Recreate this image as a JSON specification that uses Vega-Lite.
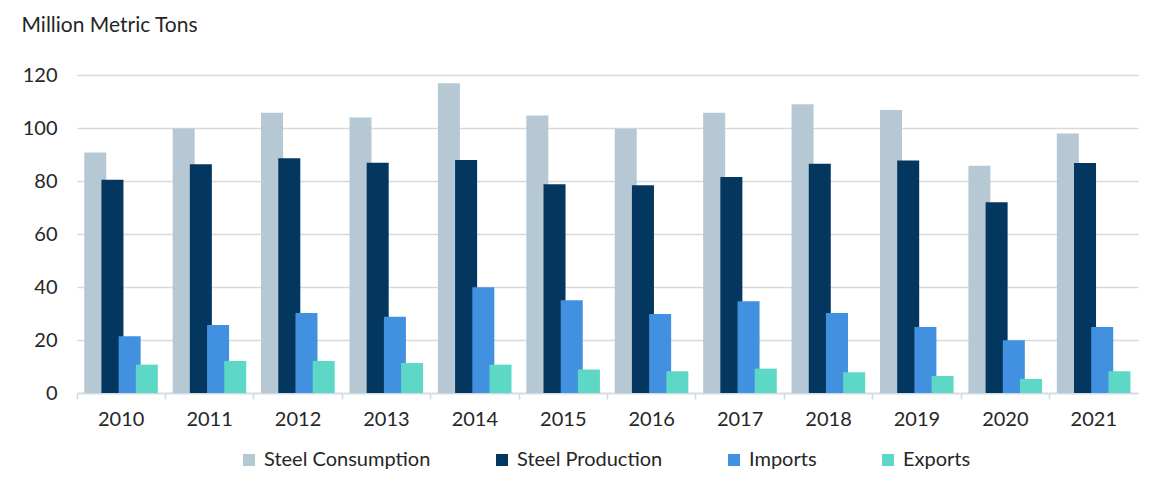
{
  "$schema": "https://vega.github.io/schema/vega-lite/v6.json",
  "width": 1061,
  "height": 318,
  "autosize": {"type": "none"},
  "padding": {"left": 77, "top": 75, "right": 15, "bottom": 100},
  "background": "white",
  "config": {
    "view": {"stroke": null},
    "font": "Lato",
    "axis": {"labelFont": "Lato", "titleFont": "Lato", "labelColor": "#262626", "titleColor": "#262626"},
    "legend": {"labelFont": "Lato"}
  },
  "data": {
    "values": [
      {"year": "2010", "series": "Steel Consumption", "value": 90.8},
      {"year": "2011", "series": "Steel Consumption", "value": 99.8},
      {"year": "2012", "series": "Steel Consumption", "value": 105.8},
      {"year": "2013", "series": "Steel Consumption", "value": 104.0},
      {"year": "2014", "series": "Steel Consumption", "value": 116.9},
      {"year": "2015", "series": "Steel Consumption", "value": 104.7},
      {"year": "2016", "series": "Steel Consumption", "value": 99.7},
      {"year": "2017", "series": "Steel Consumption", "value": 105.8},
      {"year": "2018", "series": "Steel Consumption", "value": 109.0},
      {"year": "2019", "series": "Steel Consumption", "value": 106.8},
      {"year": "2020", "series": "Steel Consumption", "value": 85.8},
      {"year": "2021", "series": "Steel Consumption", "value": 97.9},
      {"year": "2010", "series": "Steel Production", "value": 80.5},
      {"year": "2011", "series": "Steel Production", "value": 86.3},
      {"year": "2012", "series": "Steel Production", "value": 88.6},
      {"year": "2013", "series": "Steel Production", "value": 86.9},
      {"year": "2014", "series": "Steel Production", "value": 87.9},
      {"year": "2015", "series": "Steel Production", "value": 78.8},
      {"year": "2016", "series": "Steel Production", "value": 78.4},
      {"year": "2017", "series": "Steel Production", "value": 81.5},
      {"year": "2018", "series": "Steel Production", "value": 86.5},
      {"year": "2019", "series": "Steel Production", "value": 87.7},
      {"year": "2020", "series": "Steel Production", "value": 72.0},
      {"year": "2021", "series": "Steel Production", "value": 86.8},
      {"year": "2010", "series": "Imports", "value": 21.4},
      {"year": "2011", "series": "Imports", "value": 25.7},
      {"year": "2012", "series": "Imports", "value": 30.2},
      {"year": "2013", "series": "Imports", "value": 28.8},
      {"year": "2014", "series": "Imports", "value": 39.9},
      {"year": "2015", "series": "Imports", "value": 35.0},
      {"year": "2016", "series": "Imports", "value": 29.8},
      {"year": "2017", "series": "Imports", "value": 34.6},
      {"year": "2018", "series": "Imports", "value": 30.2},
      {"year": "2019", "series": "Imports", "value": 24.9},
      {"year": "2020", "series": "Imports", "value": 19.9},
      {"year": "2021", "series": "Imports", "value": 24.9},
      {"year": "2010", "series": "Exports", "value": 10.7},
      {"year": "2011", "series": "Exports", "value": 12.1},
      {"year": "2012", "series": "Exports", "value": 12.1},
      {"year": "2013", "series": "Exports", "value": 11.3},
      {"year": "2014", "series": "Exports", "value": 10.7},
      {"year": "2015", "series": "Exports", "value": 8.9},
      {"year": "2016", "series": "Exports", "value": 8.2},
      {"year": "2017", "series": "Exports", "value": 9.2},
      {"year": "2018", "series": "Exports", "value": 7.8},
      {"year": "2019", "series": "Exports", "value": 6.4},
      {"year": "2020", "series": "Exports", "value": 5.3},
      {"year": "2021", "series": "Exports", "value": 8.2}
    ]
  },
  "mark": {"type": "bar", "width": {"band": 1.28}},
  "encoding": {
    "x": {
      "field": "year",
      "type": "ordinal",
      "scale": {"paddingInner": 0, "paddingOuter": 0},
      "axis": {
        "title": null,
        "labelAngle": 0,
        "labelFontSize": 20,
        "labelPadding": 10,
        "bandPosition": 0,
        "domainColor": "#cfdbe4",
        "domainWidth": 1.5,
        "tickColor": "#cfdbe4",
        "tickWidth": 1.5,
        "tickSize": 6
      }
    },
    "xOffset": {
      "field": "series",
      "type": "nominal",
      "scale": {"domain": ["Steel Consumption", "Steel Production", "Imports", "Exports"], "paddingInner": 0, "paddingOuter": 0.57, "align": 1}
    },
    "y": {
      "field": "value",
      "type": "quantitative",
      "scale": {"domain": [0, 120], "nice": false},
      "axis": {
        "title": "Million Metric Tons",
        "titleAngle": 0,
        "titleAlign": "left",
        "titleBaseline": "alphabetic",
        "titleX": -56,
        "titleY": -44,
        "titleFontSize": 21,
        "titleFontWeight": "normal",
        "values": [0, 20, 40, 60, 80, 100, 120],
        "labelFontSize": 20,
        "labelPadding": 20,
        "ticks": false,
        "domain": false,
        "gridColor": "#d9d9d9",
        "gridWidth": 1.5
      }
    },
    "color": {
      "field": "series",
      "type": "nominal",
      "scale": {"domain": ["Steel Consumption", "Steel Production", "Imports", "Exports"], "range": ["#b6c8d3", "#03375f", "#4290e0", "#5ed8c6"]},
      "legend": {
        "title": null,
        "orient": "none",
        "direction": "horizontal",
        "legendX": 162,
        "legendY": 375,
        "padding": 0,
        "symbolType": "square",
        "symbolSize": 144,
        "symbolStrokeWidth": 0,
        "labelFontSize": 20,
        "labelLimit": 400,
        "labelColor": "#262626",
        "labelOffset": 5,
        "columnPadding": 61
      }
    },
    "order": {"field": "series", "sort": "ascending"}
  }
}
